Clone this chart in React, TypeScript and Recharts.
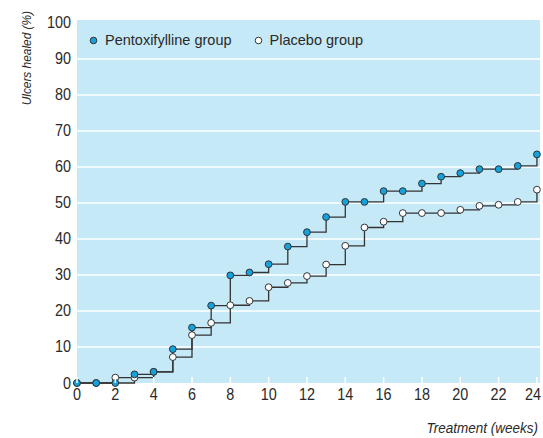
import React from 'react';
import { LineChart, Line, XAxis, YAxis, CartesianGrid, Legend } from 'recharts';

const weeks = [0, 1, 2, 3, 4, 5, 6, 7, 8, 9, 10, 11, 12, 13, 14, 15, 16, 17, 18, 19, 20, 21, 22, 23, 24];
const pentoxifylline = [0, 0, 0, 2.4, 3.1, 9.4, 15.4, 21.5, 29.9, 30.7, 33, 37.9, 41.9, 46.1, 50.3, 50.3, 53.3, 53.3, 55.4, 57.3, 58.3, 59.4, 59.4, 60.3, 63.5];
const placebo = [0, 0, 1.5, 1.5, 3.1, 7.2, 13.3, 16.7, 21.6, 22.8, 26.6, 27.8, 29.7, 32.9, 38.1, 43.2, 44.8, 47.2, 47.2, 47.2, 48.1, 49.2, 49.5, 50.3, 53.7];
const xTicks = [0, 2, 4, 6, 8, 10, 12, 14, 16, 18, 20, 22, 24];
const yTicks = [0, 10, 20, 30, 40, 50, 60, 70, 80, 90, 100];
const gridValues = [10, 20, 30, 40, 50, 60, 70, 80, 90];

const data = weeks.map((w, i) => ({ week: w, pent: pentoxifylline[i], plac: placebo[i] }));

const FONT = '"Liberation Sans", Arial, sans-serif';
const BLUE = '#14a2dd';
const LINE = '#333333';
const BG = '#c6e9f8';
const TEXT = '#2a2a2a';

const XTick = (props: any) => {
  const { x, y, payload } = props;
  const isLast = payload.value === xTicks[xTicks.length - 1];
  const tx = isLast ? x + 4 : x;
  return (
    <g>
      <line x1={x} x2={x} y1={y - 6} y2={y} stroke="#ffffff" strokeWidth={1.5} />
      <text
        transform={`translate(${tx}, ${y + 17}) scale(0.9, 1)`}
        textAnchor={isLast ? 'end' : 'middle'}
        fontFamily={FONT}
        fontSize={16}
        fill={TEXT}
      >
        {payload.value}
      </text>
    </g>
  );
};

const YTick = (props: any) => {
  const { x, y, payload } = props;
  return (
    <text
      transform={`translate(${x}, ${y + 5.5}) scale(0.9, 1)`}
      textAnchor="end"
      fontFamily={FONT}
      fontSize={16}
      fill={TEXT}
    >
      {payload.value}
    </text>
  );
};

const LegendContent = () => (
  <div style={{ display: 'flex', alignItems: 'center', height: 18, fontFamily: FONT, fontSize: 14.5, color: TEXT, whiteSpace: 'nowrap' }}>
    <svg width={9} height={9} style={{ display: 'block' }}>
      <circle cx={4.5} cy={4.5} r={3.3} fill={BLUE} stroke={LINE} strokeWidth={1} />
    </svg>
    <span style={{ marginLeft: 7 }}>Pentoxifylline group</span>
    <svg width={9} height={9} style={{ display: 'block', marginLeft: 22 }}>
      <circle cx={4.5} cy={4.5} r={3.3} fill="#ffffff" stroke={LINE} strokeWidth={1} />
    </svg>
    <span style={{ marginLeft: 7 }}>Placebo group</span>
  </div>
);

const YLabel = () => (
  <text
    transform="translate(31, 11) rotate(-90) scale(0.88, 1)"
    textAnchor="end"
    fontFamily={FONT}
    fontStyle="italic"
    fontSize={13.5}
    fill={TEXT}
  >
    Ulcers healed (%)
  </text>
);

const XLabel = () => (
  <text
    transform="translate(538, 433) scale(0.9, 1)"
    textAnchor="end"
    fontFamily={FONT}
    fontStyle="italic"
    fontSize={15}
    fill={TEXT}
  >
    Treatment (weeks)
  </text>
);

export default function App() {
  return (
    <div style={{ position: 'absolute', left: 0, top: 0, width: 543, height: 438, background: '#fff' }}>
      <LineChart width={543} height={438} data={data} margin={{ top: 20, right: 3, bottom: 25, left: 0 }}>
        <CartesianGrid vertical={false} horizontalValues={gridValues} stroke="#ffffff" strokeWidth={1.5} fill={BG} />
        <XAxis
          dataKey="week"
          type="number"
          domain={[0, 24.16]}
          ticks={xTicks}
          axisLine={false}
          tickLine={false}
          tickSize={0}
          tickMargin={0}
          height={30}
          tick={<XTick />}
          interval={0}
          label={<XLabel />}
        />
        <YAxis
          type="number"
          domain={[0, 100.83]}
          ticks={yTicks}
          axisLine={false}
          tickLine={false}
          tickSize={0}
          tickMargin={6}
          width={77}
          interval={0}
          tick={<YTick />}
          label={<YLabel />}
        />
        <Legend
          layout="vertical"
          align="center"
          verticalAlign="middle"
          wrapperStyle={{ left: 89, top: 31, width: 'auto' }}
          content={<LegendContent />}
        />
        <Line
          type="stepAfter"
          dataKey="plac"
          stroke={LINE}
          strokeWidth={1.3}
          dot={{ r: 3.4, fill: '#ffffff', stroke: LINE, strokeWidth: 1 }}
          isAnimationActive={false}
        />
        <Line
          type="stepAfter"
          dataKey="pent"
          stroke={LINE}
          strokeWidth={1.3}
          dot={{ r: 3.4, fill: BLUE, stroke: LINE, strokeWidth: 1 }}
          isAnimationActive={false}
        />
      </LineChart>
    </div>
  );
}
